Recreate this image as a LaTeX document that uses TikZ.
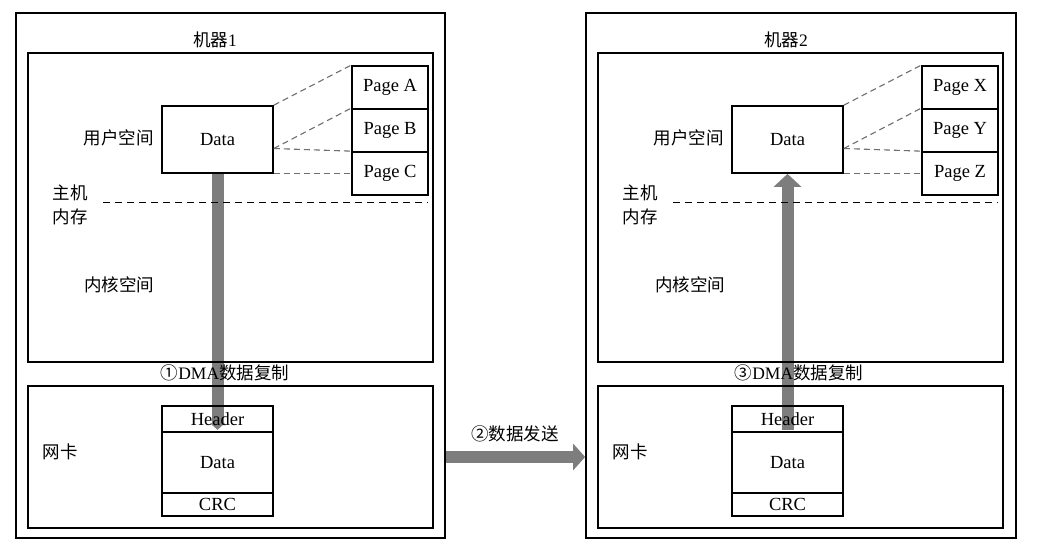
\documentclass[tikz,border=0pt]{standalone}
\usepackage{fontspec}
\setmainfont{Liberation Serif}
\newfontfamily\cjk{Noto Sans CJK SC}
\usetikzlibrary{arrows.meta,calc}
\pgfdeclarelayer{background}
\pgfdeclarelayer{bars}
\pgfsetlayers{background,bars,main}
\definecolor{bargray}{RGB}{125,125,125}
\definecolor{dashgray}{RGB}{110,110,110}
\tikzset{
  box/.style={draw, line width=1.7pt, inner sep=0pt},
  lbl/.style={inner sep=0pt, font=\fontsize{18.5}{22}\selectfont},
  clbl/.style={inner sep=0pt, font=\fontsize{17.5}{24}\selectfont\cjk, align=center},
  pagelink/.style={draw=dashgray, line width=1.1pt, dash pattern=on 6pt off 4pt},
  divider/.style={draw=black, line width=1.3pt, dash pattern=on 7pt off 5pt},
  bar/.style={draw=bargray, line width=12pt}
}
\begin{document}
\begin{tikzpicture}[x=1pt,y=-1pt]
\useasboundingbox (0,0) rectangle (1040,548);
\begin{pgfonlayer}{background}
\fill[white] (0,0) rectangle (1040,548);
\end{pgfonlayer}
% ---------- machine 1 ----------
\node[box, minimum width=429pt, minimum height=525pt] (outer1) at (230.5,275.5) {};
\node[box, minimum width=405pt, minimum height=309pt] (mem1) at (230.5,207.5) {};
\node[box, minimum width=405pt, minimum height=142pt] (nic1) at (230.5,457) {};
\node[box, minimum width=111pt, minimum height=67pt, lbl] (data1) at (217.5,139.5) {Data};
\node[box, minimum width=76pt, minimum height=43pt, lbl] (pA) at (390,87.5) {Page A};
\node[box, minimum width=76pt, minimum height=43pt, lbl] (pB) at (390,130.5) {Page B};
\node[box, minimum width=76pt, minimum height=43pt, lbl] (pC) at (390,173.5) {Page C};
\node[box, minimum width=111pt, minimum height=26pt, lbl] (hdr1) at (217.5,419) {Header};
\node[box, minimum width=111pt, minimum height=61pt, lbl] (pd1) at (217.5,462.5) {Data};
\node[box, minimum width=111pt, minimum height=23pt, lbl] (crc1) at (217.5,504.5) {CRC};
\node[clbl] (m1) at (215,40) {机器\rmfamily 1};
\node[clbl, anchor=east] (us1) at (154,138) {用户空间};
\node[clbl] (hm1) at (70,205) {主机\\内存};
\node[clbl] (ks1) at (119,285) {内核空间};
\node[clbl] (nk1) at (60,452) {网卡};
\node[clbl] (dma1) at (225,373) {①\rmfamily DMA\cjk 数据复制};
\coordinate (d1r) at ($(data1.east)+(0,9)$);
\draw[pagelink] (data1.north east) -- (pA.north west);
\draw[pagelink] (d1r) -- (pB.north west);
\draw[pagelink] (d1r) -- (pC.north west);
\draw[pagelink] (data1.south east) -- (data1.south east -| pC.west);
\coordinate (dv1a) at (103,202.5);
\coordinate (dv1b) at (428,202.5);
\draw[divider] (dv1a) -- (dv1b);
\coordinate (tip1) at ($(hdr1.south)+(0,-3)$);
\begin{pgfonlayer}{bars}
\draw[bar, -{Triangle[width=15pt,length=7pt]}] (data1.south) -- (tip1);
\end{pgfonlayer}
% ---------- machine 2 ----------
\node[box, minimum width=430pt, minimum height=525pt] (outer2) at (801,275.5) {};
\node[box, minimum width=405pt, minimum height=309pt] (mem2) at (800.5,207.5) {};
\node[box, minimum width=405pt, minimum height=142pt] (nic2) at (800.5,457) {};
\node[box, minimum width=111pt, minimum height=67pt, lbl] (data2) at (787.5,139.5) {Data};
\node[box, minimum width=76pt, minimum height=43pt, lbl] (pX) at (960,87.5) {Page X};
\node[box, minimum width=76pt, minimum height=43pt, lbl] (pY) at (960,130.5) {Page Y};
\node[box, minimum width=76pt, minimum height=43pt, lbl] (pZ) at (960,173.5) {Page Z};
\node[box, minimum width=111pt, minimum height=26pt, lbl] (hdr2) at (787.5,419) {Header};
\node[box, minimum width=111pt, minimum height=61pt, lbl] (pd2) at (787.5,462.5) {Data};
\node[box, minimum width=111pt, minimum height=23pt, lbl] (crc2) at (787.5,504.5) {CRC};
\node[clbl] (m2) at (786,40) {机器\rmfamily 2};
\node[clbl, anchor=east] (us2) at (724,138) {用户空间};
\node[clbl] (hm2) at (640,205) {主机\\内存};
\node[clbl] (ks2) at (690,285) {内核空间};
\node[clbl] (nk2) at (630,452) {网卡};
\node[clbl] (dma2) at (799,373) {③\rmfamily DMA\cjk 数据复制};
\coordinate (d2r) at ($(data2.east)+(0,9)$);
\draw[pagelink] (data2.north east) -- (pX.north west);
\draw[pagelink] (d2r) -- (pY.north west);
\draw[pagelink] (d2r) -- (pZ.north west);
\draw[pagelink] (data2.south east) -- (data2.south east -| pZ.west);
\coordinate (dv2a) at (673,202.5);
\coordinate (dv2b) at (998,202.5);
\draw[divider] (dv2a) -- (dv2b);
\coordinate (tail2) at ($(hdr2.south)+(0,-3)$);
\begin{pgfonlayer}{bars}
\draw[bar, -{Triangle[width=27pt,length=13pt]}] (tail2) -- (data2.south);
% ---------- transfer ----------
\draw[bar, -{Triangle[width=26pt,length=12pt]}] (nic1.center -| outer1.east) -- (nic1.center -| outer2.west);
\end{pgfonlayer}
\node[clbl] (send) at (515,434) {②数据发送};
\end{tikzpicture}
\end{document}
